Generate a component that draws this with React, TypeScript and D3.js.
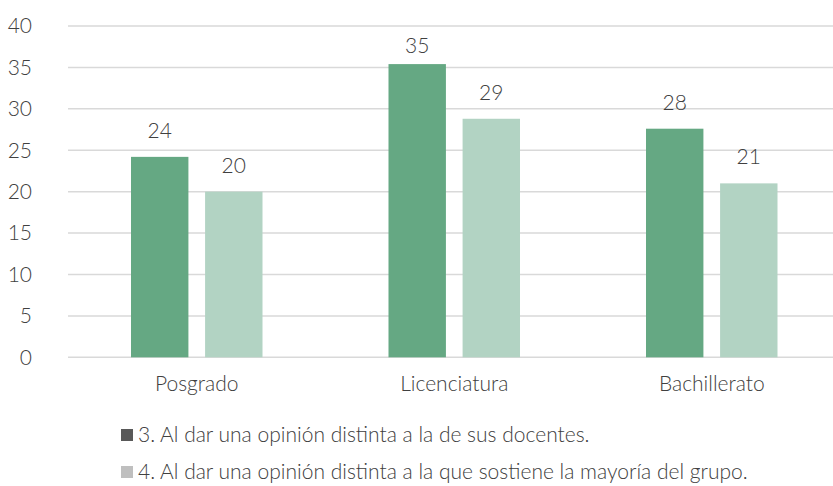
import React from "react";
import * as d3 from "d3";

const categories = ["Posgrado", "Licenciatura", "Bachillerato"];
const seriesNames = [
  "3. Al dar una opinión distinta a la de sus docentes.",
  "4. Al dar una opinión distinta a la que sostiene la mayoría del grupo.",
];
const docentes = [24.2, 35.4, 27.6];
const mayoria = [20, 28.8, 21];
const labelsDocentes = ["24", "35", "28"];
const labelsMayoria = ["20", "29", "21"];
const yTicks = [0, 5, 10, 15, 20, 25, 30, 35, 40];

const barColors = ["#65A883", "#B2D3C3"];
const legendColors = ["#595959", "#BFBFBF"];
const textColor = "#404040";
const font = "Lato, 'Open Sans', sans-serif";
const fs = 21;

export default function App() {
  const W = 833, H = 486;
  const x0 = d3.scaleBand<string>().domain(categories).range([68, 840.5]).paddingInner(0).paddingOuter(0);
  const x1 = d3.scaleBand<string>().domain(["a", "b"]).range([0, 131.5]).paddingInner(0.225);
  const y = d3.scaleLinear().domain([0, 40]).range([357.3, 26]);
  const series = [
    { key: "a", values: docentes, labels: labelsDocentes, color: barColors[0] },
    { key: "b", values: mayoria, labels: labelsMayoria, color: barColors[1] },
  ];
  const groupOffset = (x0.bandwidth() - 131.5) / 2;
  return (
    <svg width={W} height={H} style={{ position: "absolute", left: 0, top: 0, background: "#fff" }}>
      <g>
        {yTicks.map((t) => (
          <g key={t}>
            <line x1={68} x2={833} y1={y(t)} y2={y(t)} stroke="#D9D9D9" strokeWidth={1.5} />
            <text x={32} y={y(t)} dy="0.35em" textAnchor="end" fontFamily={font} fontWeight={300} fontSize={fs} fill={textColor}>
              {t}
            </text>
          </g>
        ))}
      </g>
      {categories.map((c, i) => (
        <g key={c} transform={`translate(${(x0(c) ?? 0) + groupOffset},0)`}>
          {series.map((s) => {
            const bx = x1(s.key) ?? 0;
            const ly = Math.max(y(s.values[i]) - 26.5, 45.5);
            return (
              <g key={s.key}>
                <rect x={bx} width={x1.bandwidth()} y={y(s.values[i])} height={y(0) - y(s.values[i])} fill={s.color} />
                <text x={bx + x1.bandwidth() / 2} y={ly} dy="0.35em" textAnchor="middle" fontFamily={font} fontWeight={300} fontSize={fs} fill={textColor}>
                  {s.labels[i]}
                </text>
              </g>
            );
          })}
        </g>
      ))}
      {categories.map((c) => (
        <text key={c} x={(x0(c) ?? 0) + x0.bandwidth() / 2} y={384} dy="0.35em" textAnchor="middle" fontFamily={font} fontWeight={300} fontSize={fs} fill={textColor}>
          {c}
        </text>
      ))}
      {seriesNames.map((n, i) => (
        <g key={n} transform={`translate(121,${435 + i * 37})`}>
          <rect x={0} y={-6} width={12} height={12} fill={legendColors[i]} />
          <text x={17} y={0} dy="0.35em" fontFamily={font} fontWeight={300} fontSize={fs} fill={textColor}>
            {n}
          </text>
        </g>
      ))}
    </svg>
  );
}
